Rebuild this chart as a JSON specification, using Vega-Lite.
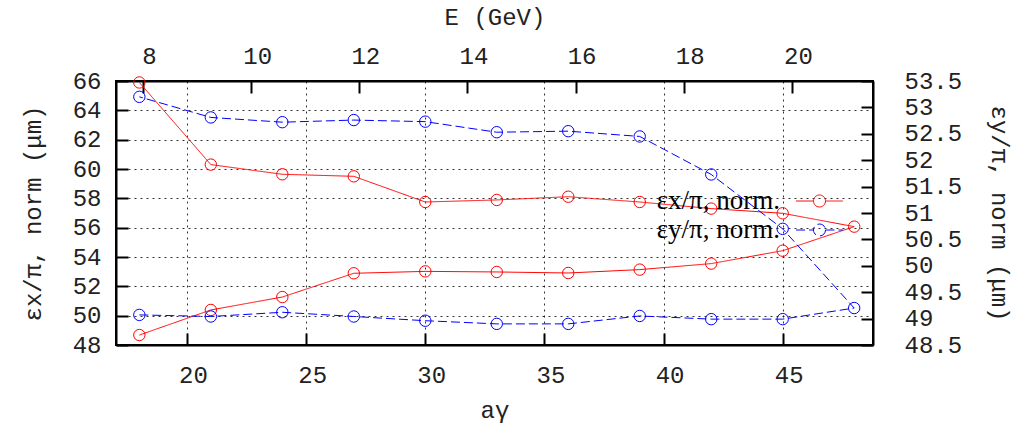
{
  "$schema": "https://vega.github.io/schema/vega-lite/v6.json",
  "width": 757,
  "height": 264,
  "autosize": "none",
  "padding": {"left": 116, "top": 81, "right": 154, "bottom": 89},
  "background": "white",
  "config": {
    "view": {"stroke": "black", "strokeWidth": 2},
    "axis": {
      "labelFont": "Liberation Mono",
      "labelFontSize": 24,
      "labelColor": "#222",
      "titleFont": "Liberation Mono",
      "titleFontSize": 24,
      "titleFontWeight": "normal",
      "titleColor": "#222",
      "domainColor": "black",
      "domainWidth": 2,
      "tickColor": "black",
      "tickWidth": 2,
      "tickSize": -12,
      "gridColor": "black",
      "gridDash": [2, 4],
      "gridOpacity": 0.8,
      "gridWidth": 1,
      "labelFlush": false,
      "labelOverlap": false,
      "labelBound": false
    },
    "legend": {
      "labelFont": "Liberation Serif",
      "labelFontSize": 27,
      "labelColor": "black"
    }
  },
  "datasets": {
    "em": [
      {"s": "εx/π, norm.", "o": 1, "a": 18, "v": 48.68},
      {"s": "εx/π, norm.", "o": 2, "a": 21, "v": 50.39},
      {"s": "εx/π, norm.", "o": 3, "a": 24, "v": 51.27},
      {"s": "εx/π, norm.", "o": 4, "a": 27, "v": 52.89},
      {"s": "εx/π, norm.", "o": 5, "a": 30, "v": 53.02},
      {"s": "εx/π, norm.", "o": 6, "a": 33, "v": 52.98},
      {"s": "εx/π, norm.", "o": 7, "a": 36, "v": 52.91},
      {"s": "εx/π, norm.", "o": 8, "a": 39, "v": 53.14},
      {"s": "εx/π, norm.", "o": 9, "a": 42, "v": 53.55},
      {"s": "εx/π, norm.", "o": 10, "a": 45, "v": 54.43},
      {"s": "εx/π, norm.", "o": 11, "a": 48, "v": 56.07},
      {"s": "εx/π, norm.", "o": 12, "a": 45, "v": 56.98},
      {"s": "εx/π, norm.", "o": 13, "a": 42, "v": 57.3},
      {"s": "εx/π, norm.", "o": 14, "a": 39, "v": 57.75},
      {"s": "εx/π, norm.", "o": 15, "a": 36, "v": 58.11},
      {"s": "εx/π, norm.", "o": 16, "a": 33, "v": 57.89},
      {"s": "εx/π, norm.", "o": 17, "a": 30, "v": 57.75},
      {"s": "εx/π, norm.", "o": 18, "a": 27, "v": 59.5},
      {"s": "εx/π, norm.", "o": 19, "a": 24, "v": 59.64},
      {"s": "εx/π, norm.", "o": 20, "a": 21, "v": 60.3},
      {"s": "εx/π, norm.", "o": 21, "a": 18, "v": 65.9},
      {"s": "εy/π, norm.", "o": 1, "a": 18, "v": 49.07},
      {"s": "εy/π, norm.", "o": 2, "a": 21, "v": 49.04},
      {"s": "εy/π, norm.", "o": 3, "a": 24, "v": 49.12},
      {"s": "εy/π, norm.", "o": 4, "a": 27, "v": 49.04},
      {"s": "εy/π, norm.", "o": 5, "a": 30, "v": 48.96},
      {"s": "εy/π, norm.", "o": 6, "a": 33, "v": 48.9},
      {"s": "εy/π, norm.", "o": 7, "a": 36, "v": 48.9},
      {"s": "εy/π, norm.", "o": 8, "a": 39, "v": 49.05},
      {"s": "εy/π, norm.", "o": 9, "a": 42, "v": 48.99},
      {"s": "εy/π, norm.", "o": 10, "a": 45, "v": 48.99},
      {"s": "εy/π, norm.", "o": 11, "a": 48, "v": 49.2},
      {"s": "εy/π, norm.", "o": 12, "a": 45, "v": 50.7},
      {"s": "εy/π, norm.", "o": 13, "a": 42, "v": 51.73},
      {"s": "εy/π, norm.", "o": 14, "a": 39, "v": 52.45},
      {"s": "εy/π, norm.", "o": 15, "a": 36, "v": 52.55},
      {"s": "εy/π, norm.", "o": 16, "a": 33, "v": 52.53},
      {"s": "εy/π, norm.", "o": 17, "a": 30, "v": 52.73},
      {"s": "εy/π, norm.", "o": 18, "a": 27, "v": 52.76},
      {"s": "εy/π, norm.", "o": 19, "a": 24, "v": 52.72},
      {"s": "εy/π, norm.", "o": 20, "a": 21, "v": 52.81},
      {"s": "εy/π, norm.", "o": 21, "a": 18, "v": 53.2}
    ],
    "erange": [{"E": 7.5}, {"E": 21.5}]
  },
  "layer": [
    {
      "data": {"name": "em"},
      "transform": [{"filter": "datum.s === 'εx/π, norm.'"}],
      "encoding": {
        "x": {
          "field": "a", "type": "quantitative",
          "scale": {"domain": [17.02, 48.79], "nice": false, "zero": false},
          "axis": {"orient": "bottom", "title": "aγ", "values": [20, 25, 30, 35, 40, 45], "grid": true, "labelPadding": 30, "labelOffset": 6, "titlePadding": 11}
        },
        "y": {
          "field": "v", "type": "quantitative",
          "scale": {"domain": [48, 66], "nice": false, "zero": false},
          "axis": {"orient": "left", "title": "εx/π,  norm  (μm)", "values": [48, 50, 52, 54, 56, 58, 60, 62, 64, 66], "grid": true, "labelPadding": 27, "titlePadding": 27}
        }
      },
      "layer": [
        {
          "mark": {"type": "line", "strokeWidth": 1},
          "encoding": {
            "order": {"field": "o", "type": "quantitative"},
            "color": {
              "field": "s", "type": "nominal",
              "scale": {"domain": ["εx/π, norm.", "εy/π, norm."], "range": ["#ff0000", "#0000ff"]},
              "legend": {
                "title": null, "orient": "none", "legendX": 690, "legendY": 106.5,
                "padding": 0, "symbolType": "M-3.9,0H-1M1,0H3.9M1,0A1,1 0 1 1 -1,0A1,1 0 1 1 1,0",
                "symbolSize": 144, "symbolStrokeWidth": 1, "symbolFillColor": "transparent", "symbolOpacity": 1,
                "labelAlign": "right", "labelBaseline": "middle", "labelOffset": -53, "rowPadding": 1
              }
            },
            "strokeDash": {
              "field": "s", "type": "nominal",
              "scale": {"domain": ["εx/π, norm.", "εy/π, norm."], "range": [[1, 0], [9, 4]]},
              "legend": {
                "title": null, "orient": "none", "legendX": 690, "legendY": 106.5,
                "padding": 0, "symbolType": "M-3.9,0H-1M1,0H3.9M1,0A1,1 0 1 1 -1,0A1,1 0 1 1 1,0",
                "symbolSize": 144, "symbolStrokeWidth": 1, "symbolFillColor": "transparent", "symbolOpacity": 1,
                "labelAlign": "right", "labelBaseline": "middle", "labelOffset": -53, "rowPadding": 1
              }
            }
          }
        },
        {
          "mark": {"type": "point", "shape": "circle", "filled": false, "size": 130, "strokeWidth": 1, "opacity": 1},
          "encoding": {
            "color": {"field": "s", "type": "nominal", "legend": null}
          }
        }
      ]
    },
    {
      "data": {"name": "em"},
      "transform": [{"filter": "datum.s === 'εy/π, norm.'"}],
      "encoding": {
        "x": {
          "field": "a", "type": "quantitative",
          "scale": {"domain": [17.02, 48.79], "nice": false, "zero": false},
          "axis": null
        },
        "y": {
          "field": "v", "type": "quantitative",
          "scale": {"domain": [48.5, 53.5], "nice": false, "zero": false},
          "axis": {"orient": "right", "title": "εy/π,  norm  (μm)", "values": [48.5, 49, 49.5, 50, 50.5, 51, 51.5, 52, 52.5, 53, 53.5], "format": "~g", "grid": false, "labelPadding": 43, "titlePadding": 25}
        }
      },
      "layer": [
        {
          "mark": {"type": "line", "strokeWidth": 1},
          "encoding": {
            "order": {"field": "o", "type": "quantitative"},
            "color": {"field": "s", "type": "nominal"},
            "strokeDash": {"field": "s", "type": "nominal"}
          }
        },
        {
          "mark": {"type": "point", "shape": "circle", "filled": false, "size": 130, "strokeWidth": 1, "opacity": 1},
          "encoding": {
            "color": {"field": "s", "type": "nominal", "legend": null}
          }
        }
      ]
    },
    {
      "data": {"name": "erange"},
      "mark": {"type": "rule", "opacity": 0},
      "encoding": {
        "x": {
          "field": "E", "type": "quantitative",
          "scale": {"domain": [7.5, 21.5], "nice": false, "zero": false},
          "axis": {"orient": "top", "title": "E  (GeV)", "values": [8, 10, 12, 14, 16, 18, 20], "grid": false, "labelPadding": 25, "labelOffset": 6, "titlePadding": 15}
        }
      }
    }
  ],
  "resolve": {"scale": {"x": "independent", "y": "independent"}}
}
